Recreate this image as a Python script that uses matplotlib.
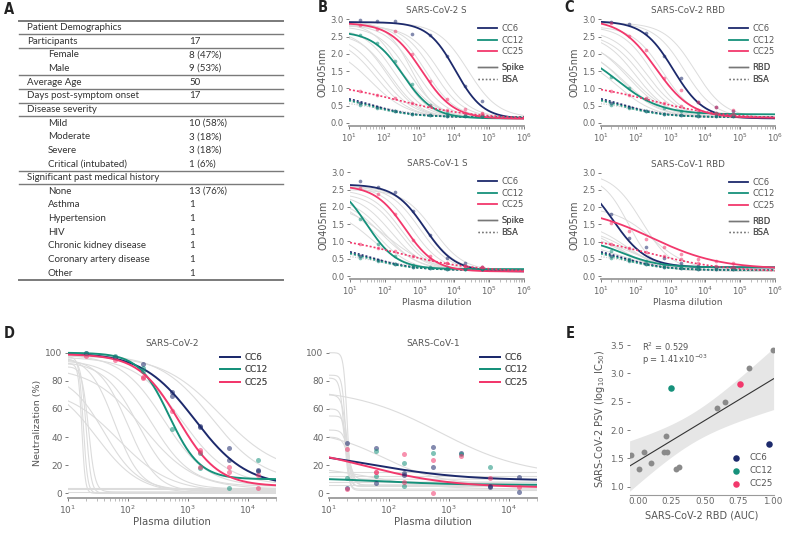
import numpy as np
import matplotlib
matplotlib.use('Agg')
import matplotlib.pyplot as plt
from matplotlib.lines import Line2D

W, H = 787, 536
navy = '#1d2a6c'
teal = '#16917b'
pink = '#f2386c'
txt = '#555555'
light = '#dcdcdc'

donors = ['CC6', 'CC12', 'CC25']
donor_col = {'CC6': navy, 'CC12': teal, 'CC25': pink}

# ---- panel A table
row_labels = ['Patient Demographics', 'Participants', 'Female', 'Male', 'Average Age',
              'Days post-symptom onset', 'Disease severity', 'Mild', 'Moderate', 'Severe',
              'Critical (intubated)', 'Significant past medical history', 'None', 'Asthma',
              'Hypertension', 'HIV', 'Chronic kidney disease', 'Coronary artery disease', 'Other']
row_values = ['', '17', '8 (47%)', '9 (53%)', '50', '17', '', '10 (58%)', '3 (18%)', '3 (18%)',
              '1 (6%)', '', '13 (76%)', '1', '1', '1', '1', '1', '1']
row_indent = [0, 0, 1, 1, 0, 0, 0, 1, 1, 1, 1, 0, 1, 1, 1, 1, 1, 1, 1]
rule_after = [0, 1, 3, 4, 5, 6, 10, 11]

# ---- ELISA (panels B, C)
elisa_dil = [20, 63, 200, 632, 2000, 6320, 20000, 63200]

cov2_s_pts = {'CC6': [2.98, 2.96, 2.96, 2.58, 2.55, 1.95, 1.06, 0.64],
              'CC12': [2.56, 2.30, 1.80, 1.12, 0.52, 0.30, 0.22, 0.19],
              'CC25': [2.84, 2.71, 2.65, 1.99, 1.21, 0.70, 0.41, 0.29]}
cov1_s_pts = {'CC6': [2.75, 2.57, 2.42, 1.89, 1.20, 0.52, 0.37, 0.27],
              'CC12': [1.65, 0.94, 0.58, 0.32, 0.25, 0.22, 0.20, 0.20],
              'CC25': [2.55, 2.36, 1.78, 1.05, 0.58, 0.39, 0.30, 0.27]}
cov2_rbd_pts = {'CC6': [2.92, 2.85, 2.61, 1.94, 1.29, 0.62, 0.45, 0.35],
                'CC12': [1.33, 1.00, 0.70, 0.44, 0.35, 0.30, 0.28, 0.25],
                'CC25': [2.88, 2.51, 2.10, 1.30, 0.95, 0.61, 0.45, 0.37]}
cov1_rbd_pts = {'CC6': [1.80, 1.09, 0.83, 0.52, 0.39, 0.30, 0.27, 0.25],
                'CC12': [0.73, 0.50, 0.44, 0.32, 0.28, 0.26, 0.25, 0.24],
                'CC25': [1.55, 1.32, 1.07, 0.85, 0.64, 0.48, 0.44, 0.37]}
bsa_pts = {'CC6': [0.58, 0.46, 0.35, 0.27, 0.24, 0.21, 0.20, 0.20],
           'CC12': [0.52, 0.43, 0.35, 0.26, 0.22, 0.20, 0.19, 0.19],
           'CC25': [0.92, 0.80, 0.71, 0.58, 0.49, 0.38, 0.30, 0.27]}

# fitted 4PL parameters: (top, bottom, ec50, hill)
cov2_s_fit = {'CC6': (2.92, 0.12, 11000, 1.1), 'CC12': (2.65, 0.13, 350, 1.0), 'CC25': (2.9, 0.12, 1200, 0.95)}
cov1_s_fit = {'CC6': (2.65, 0.13, 1400, 1.0), 'CC12': (2.8, 0.2, 30, 1.0), 'CC25': (2.62, 0.13, 380, 1.0)}
cov2_rbd_fit = {'CC6': (2.95, 0.13, 1200, 1.0), 'CC12': (2.2, 0.25, 30, 0.7), 'CC25': (3.0, 0.15, 380, 0.85)}
cov1_rbd_fit = {'CC6': (3.0, 0.25, 22, 0.9), 'CC12': (1.1, 0.25, 40, 0.8), 'CC25': (2.0, 0.2, 300, 0.45)}
bsa_fit = {'CC6': (0.9, 0.17, 40, 0.7), 'CC12': (0.85, 0.17, 35, 0.7), 'CC25': (1.2, 0.12, 250, 0.4)}

# other donors (grey curves): (top, ec50, hill)
cov2_s_grey = [(2.9, 1500, 1.0), (2.85, 800, 1.0), (2.8, 500, 1.0), (2.9, 300, 1.1), (2.75, 200, 1.0),
               (2.7, 120, 1.0), (2.6, 80, 0.9), (2.85, 2500, 1.0), (2.5, 60, 0.9), (2.3, 40, 0.8),
               (2.9, 25000, 1.0), (2.8, 4000, 1.0), (2.7, 350, 0.9), (2.95, 600, 1.2), (2.6, 150, 1.0)]
cov1_s_grey = [(2.6, 600, 1.0), (2.5, 300, 1.0), (2.4, 150, 0.9), (2.3, 100, 0.9), (2.2, 60, 0.9),
               (2.6, 1500, 1.0), (2.5, 2500, 1.0), (2.0, 40, 0.8), (2.4, 250, 1.0), (2.3, 80, 0.8),
               (2.6, 1000, 1.0), (2.1, 120, 0.7)]
cov2_rbd_grey = [(2.9, 2500, 1.0), (2.8, 600, 1.0), (2.7, 200, 0.9), (2.6, 100, 0.9), (2.5, 60, 0.8),
                 (2.3, 40, 0.8), (2.0, 30, 0.8), (2.9, 5000, 1.0), (2.8, 300, 1.0), (2.6, 150, 0.9),
                 (2.4, 80, 0.8), (2.2, 50, 0.8)]
cov1_rbd_grey = [(3.0, 150, 1.0), (2.9, 60, 1.2), (2.0, 300, 0.8), (1.6, 50, 0.8), (1.4, 60, 0.8),
                 (1.3, 40, 0.8), (1.2, 80, 0.7), (1.1, 50, 0.8), (1.0, 40, 0.7), (1.5, 30, 0.8)]
grey_bsa = [(0.8, 60, 0.7), (0.75, 80, 0.6), (0.7, 50, 0.7), (0.65, 100, 0.6)]

# ---- neutralization (panel D)
neut2_x = {'CC6': [20, 60, 180, 540, 540, 1620, 1620, 4860, 4860, 14580, 14580],
           'CC12': [20, 60, 180, 180, 540, 1620, 1620, 4860, 14580],
           'CC25': [20, 60, 180, 180, 540, 1620, 1620, 1620, 4860, 4860, 14580, 14580]}
neut2_y = {'CC6': [100, 97, 92, 69.4, 71.8, 48, 47, 32, 23.7, 16, 16.6],
           'CC12': [99.5, 98, 89, 87, 45.5, 17.8, 29, 3.5, 23.7],
           'CC25': [98, 95, 82, 83, 58.5, 30.8, 29.6, 18.9, 19, 15.4, 3.5, 13]}
neut1_x = {'CC6': [20, 20, 60, 60, 180, 180, 540, 540, 1620, 4860, 4860, 14580, 14580],
           'CC12': [20, 60, 60, 180, 180, 540, 1620, 4860],
           'CC25': [20, 20, 60, 60, 180, 180, 540, 540, 1620, 4860, 14580]}
neut1_y = {'CC6': [35.5, 4, 32, 7.3, 13, 14.2, 33, 18.5, 28.4, 4.7, 5.5, 11.8, 1.2],
           'CC12': [11.1, 30, 12.3, 21.8, 5.2, 28.4, 27.7, 19],
           'CC25': [31.3, 3, 15, 15.4, 28, 7.8, 23.7, 0.5, 26.8, 11.1, 4.7]}
neut2_fit = {'CC6': (100, 5, 1300, 1.0), 'CC12': (100, 10, 490, 1.7), 'CC25': (99, 5, 700, 1.3)}
neut1_fit = {'CC6': (32, 9, 50, 0.55), 'CC12': (11, 6, 80, 0.7), 'CC25': (35, 4, 40, 0.6)}
# (top, bottom, ic50, hill)
neut2_grey = [(97, 0, 18, 12), (95, 0, 20, 10), (92, 0, 17, 15), (90, 1, 22, 8), (98, 2, 60, 2),
              (96, 1, 100, 1.8), (94, 3, 150, 1.5), (95, 5, 250, 1.3), (85, 2, 40, 1.5), (80, 0, 30, 1.2),
              (99, 5, 400, 1.2), (99, 8, 2500, 1.0), (98, 14, 3500, 0.9), (90, 3, 180, 1.0),
              (97, 6, 800, 1.1), (75, 1, 70, 1.0), (3, 3, 100, 1), (1, 1, 100, 1), (4, 4, 100, 1)]
neut1_grey = [(100, 5, 20, 15), (84, 3, 19, 15), (82, 2, 18, 12), (70, 6, 20, 10), (60, 5, 19, 12),
              (55, 8, 20, 14), (45, 10, 21, 10), (40, 5, 22, 8), (75, 12, 700, 0.6), (45, 6, 80, 0.9),
              (20, 3, 50, 0.8), (15, 15, 100, 1), (12, 12, 100, 1), (6, 6, 100, 1), (8, 8, 100, 1)]

# ---- correlation (panel E)
rbd_auc = [-0.05, 0.01, 0.05, 0.10, 0.21, 0.196, 0.22, 0.285, 0.31, 0.587, 0.646, 0.83, 1.007]
psv_ic50 = [1.56, 1.31, 1.62, 1.41, 1.90, 1.62, 1.62, 1.31, 1.35, 2.39, 2.49, 3.10, 3.41]
donor_auc = {'CC6': 0.978, 'CC12': 0.25, 'CC25': 0.76}
donor_ic50 = {'CC6': 1.75, 'CC12': 2.75, 'CC25': 2.82}


def fourpl(x, top, bottom, ec50, hill):
    return bottom + (top - bottom) / (1 + (x / ec50) ** hill)


fig = plt.figure(figsize=(W / 100, H / 100), dpi=100)


def px_axes(l, t, r, b):
    return fig.add_axes([l / W, 1 - b / H, (r - l) / W, (b - t) / H])


def style(ax, fs=6):
    for s in ['top', 'right', 'left']:
        ax.spines[s].set_visible(False)
    ax.spines['bottom'].set_color('#9a9a9a')
    ax.spines['bottom'].set_linewidth(1.3)
    ax.tick_params(colors='#666666', labelsize=fs, length=2.5, width=0.6, pad=1.5)
    ax.tick_params(axis='x', which='minor', length=1.8, width=0.4, colors='#888888')
    ax.tick_params(axis='x', which='major', length=2.5, colors='#666666')


def legend_at(ax, handles, labels, x, y, fs=6, spacing=0.3):
    lg = ax.legend(handles, labels, loc='upper left', bbox_to_anchor=(x / W, 1 - y / H),
                   bbox_transform=fig.transFigure, frameon=False, fontsize=fs,
                   handlelength=2.3, handletextpad=0.5, labelspacing=spacing, borderpad=0,
                   borderaxespad=0, labelcolor=txt)
    ax.add_artist(lg)


# overlay for table and letters
ov = fig.add_axes([0, 0, 1, 1])
ov.set_xlim(0, W)
ov.set_ylim(H, 0)
ov.axis('off')

for lt, x, y in [('A', 4, 9), ('B', 318, 8), ('C', 564, 8), ('D', 4, 333), ('E', 566, 333)]:
    ov.text(x, y, lt, fontsize=10.5, fontweight='bold', fontstretch='condensed',
            color='#222222', va='center', ha='left')

t0, rh = 20.7, 13.64
ov.plot([19, 283], [t0, t0], color='#7a7a7a', lw=1.4)
for i, (lab, val, ind) in enumerate(zip(row_labels, row_values, row_indent)):
    yc = t0 + rh * (i + 0.5)
    ov.text(48 if ind else 27, yc, lab, fontsize=7.0, family='Lato', color='#333333', va='center')
    if val:
        ov.text(189, yc, val, fontsize=7.0, family='Lato', color='#333333', va='center')
for i in rule_after:
    yy = t0 + rh * (i + 1)
    ov.plot([19, 283], [yy, yy], color='#7a7a7a', lw=1.0)
yb = t0 + rh * len(row_labels)
ov.plot([19, 283], [yb, yb], color='#7a7a7a', lw=1.4)

# ---- B and C
xs = np.logspace(1, 6, 300)
elisa_panels = [
    ('SARS-CoV-2 S', cov2_s_pts, cov2_s_fit, cov2_s_grey, 'Spike', (349, 524, 19.3, 123.0), False),
    ('SARS-CoV-1 S', cov1_s_pts, cov1_s_fit, cov1_s_grey, 'Spike', (350, 524, 172.3, 276.0), True),
    ('SARS-CoV-2 RBD', cov2_rbd_pts, cov2_rbd_fit, cov2_rbd_grey, 'RBD', (601, 775, 19.3, 123.0), False),
    ('SARS-CoV-1 RBD', cov1_rbd_pts, cov1_rbd_fit, cov1_rbd_grey, 'RBD', (601, 775, 172.7, 276.0), True),
]
for title, pts, fit, grey, antigen, (xl, xr, y3, y0), bottom_row in elisa_panels:
    u = (y0 - y3) / 3.0
    ax = px_axes(xl, y3 - 0.05 * u, xr, y0 + 0.09 * u)
    for top, ec50, hill in grey:
        ax.plot(xs, fourpl(xs, top, 0.15, ec50, hill), color=light, lw=0.7, zorder=1)
    for top, ec50, hill in grey_bsa:
        ax.plot(xs, fourpl(xs, top, 0.17, ec50, hill), color='#d0d0d0', lw=0.7, ls=':', zorder=1)
    for d in donors:
        c = donor_col[d]
        ax.plot(xs, fourpl(xs, *bsa_fit[d]), color=c, lw=1.2, ls=(0, (1.2, 1.2)), zorder=3)
        ax.scatter(elisa_dil, bsa_pts[d], s=7, color=c, alpha=0.55, lw=0, zorder=4)
        ax.plot(xs, fourpl(xs, *fit[d]), color=c, lw=1.3, zorder=3)
        ax.scatter(elisa_dil, pts[d], s=7, color=c, alpha=0.55, lw=0, zorder=4)
    ax.set_xscale('log')
    ax.set_xlim(10, 1e6)
    ax.set_ylim(-0.09, 3.05)
    ax.set_yticks([0, 0.5, 1.0, 1.5, 2.0, 2.5, 3.0])
    ax.set_yticklabels(['0.0', '0.5', '1.0', '1.5', '2.0', '2.5', '3.0'])
    style(ax)
    ax.set_title(title, fontsize=6.3, color=txt, pad=3)
    ax.set_ylabel('OD405nm', fontsize=7, color=txt, labelpad=2)
    if bottom_row:
        ax.set_xlabel('Plasma dilution', fontsize=6.5, color=txt, labelpad=1)
    h1 = [Line2D([], [], color=donor_col[d], lw=1.3) for d in donors]
    legend_at(ax, h1, donors, xr - 46, y3 + 5)
    h2 = [Line2D([], [], color='#777777', lw=1.0), Line2D([], [], color='#777777', lw=1.0, ls=':')]
    legend_at(ax, h2, [antigen, 'BSA'], xr - 46, y3 + 44)

# ---- D
xn = np.logspace(1, np.log10(3e4), 300)
neut_panels = [
    ('SARS-CoV-2', neut2_x, neut2_y, neut2_fit, neut2_grey, 68.0, True, 220),
    ('SARS-CoV-1', neut1_x, neut1_y, neut1_fit, neut1_grey, 329.0, False, 480),
]
for title, nx, ny, fit, grey, xl, first, legx in neut_panels:
    dec = 59.9
    y100, y0 = 352.7, 493.3
    u = (y0 - y100) / 100
    ax = px_axes(xl, y100 - 3 * u, xl + dec * np.log10(3e3), y0 + 3.4 * u)
    for g in grey:
        ax.plot(xn, fourpl(xn, *g), color=light, lw=0.8, zorder=1)
    for d in donors:
        c = donor_col[d]
        ax.plot(xn, fourpl(xn, *fit[d]), color=c, lw=1.4, zorder=3)
        ax.scatter(nx[d], ny[d], s=13, color=c, alpha=0.55, lw=0, zorder=4)
    ax.set_xscale('log')
    ax.set_xlim(10, 3e4)
    ax.set_ylim(-3.4, 103)
    ax.set_yticks([0, 20, 40, 60, 80, 100])
    style(ax, fs=6.5)
    ax.set_title(title, fontsize=6.5, color=txt, pad=2)
    ax.set_xlabel('Plasma dilution', fontsize=7.3, color=txt, labelpad=1)
    if first:
        ax.set_ylabel('Neutralization (%)', fontsize=6.8, color=txt, labelpad=2)
    h1 = [Line2D([], [], color=donor_col[d], lw=1.4) for d in donors]
    legend_at(ax, h1, donors, legx, 353, fs=6.3, spacing=0.4)

# ---- E
ax = px_axes(629.6, 342.2, 773.6, 495.2)
xa = np.array(rbd_auc + [donor_auc[d] for d in donors])
ya = np.array(psv_ic50 + [donor_ic50[d] for d in donors])
slope, icpt = np.polyfit(xa, ya, 1)
xl_e = np.linspace(-0.06, 1.01, 100)
n = len(xa)
resid = ya - (slope * xa + icpt)
s_err = np.sqrt(np.sum(resid ** 2) / (n - 2))
se = s_err * np.sqrt(1 / n + (xl_e - xa.mean()) ** 2 / np.sum((xa - xa.mean()) ** 2))
yfit = slope * xl_e + icpt
ax.fill_between(xl_e, yfit - 2.13 * se, yfit + 2.13 * se, color='#e6e6e6', lw=0, zorder=1)
ax.plot(xl_e, yfit, color='#333333', lw=0.8, zorder=2)
ax.scatter(rbd_auc, psv_ic50, s=18, color='#8a8a8a', lw=0, zorder=3)
for d in donors:
    ax.scatter([donor_auc[d]], [donor_ic50[d]], s=22, color=donor_col[d], lw=0, zorder=4, label=d)
ax.set_xlim(-0.06, 1.01)
ax.set_ylim(0.85, 3.55)
ax.set_xticks([0, 0.25, 0.5, 0.75, 1.0])
ax.set_xticklabels(['0.00', '0.25', '0.50', '0.75', '1.00'])
ax.set_yticks([1.0, 1.5, 2.0, 2.5, 3.0, 3.5])
style(ax, fs=6.3)
ax.tick_params(axis='x', which='major', length=0)
ax.spines['bottom'].set_linewidth(0.8)
ax.set_xlabel('SARS-CoV-2 RBD (AUC)', fontsize=7, color=txt, labelpad=3)
ax.set_ylabel('SARS-CoV-2 PSV (log$_{10}$ IC$_{50}$)', fontsize=7, color=txt, labelpad=2)
ax.text(0.03, 3.47, 'R$^2$ = 0.529', fontsize=6, color=txt, va='center')
ax.text(0.03, 3.24, 'p = 1.41x10$^{-03}$', fontsize=6, color=txt, va='center')
ax.legend(loc='upper left', bbox_to_anchor=(727 / W, 1 - 453 / H), bbox_transform=fig.transFigure,
          frameon=False, fontsize=6.3, handletextpad=0.6, labelspacing=0.45, borderpad=0,
          borderaxespad=0, labelcolor=txt, markerscale=1.0)

fig.savefig('out.png', dpi=100)
